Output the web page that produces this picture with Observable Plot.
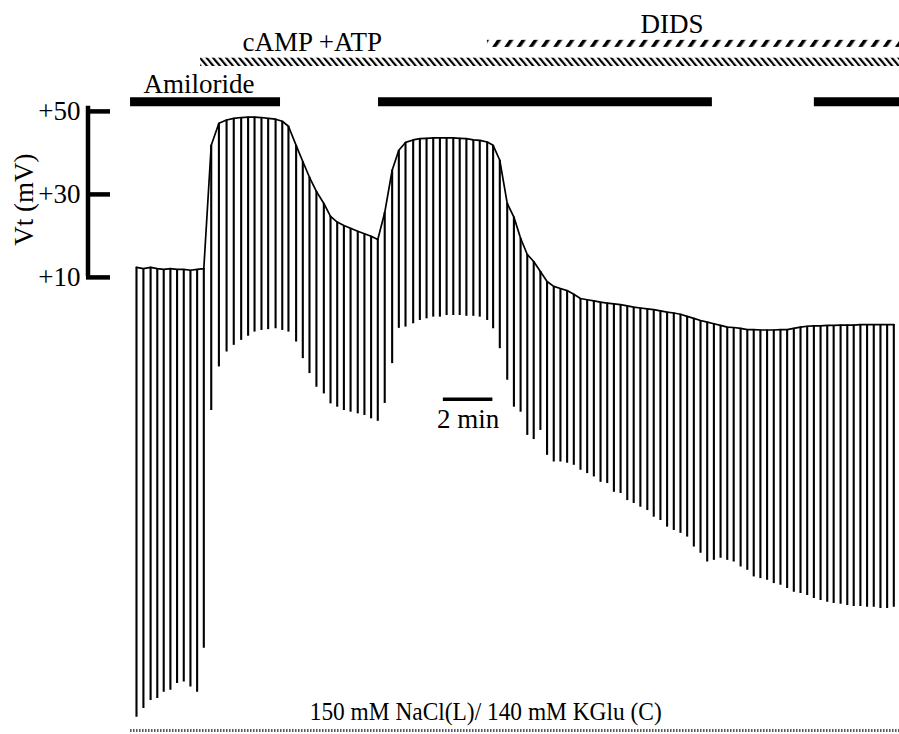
<!DOCTYPE html>
<html>
<head>
<meta charset="utf-8">
<script src="https://cdn.jsdelivr.net/npm/d3@7"></script>
<script src="https://cdn.jsdelivr.net/npm/@observablehq/plot@0.6"></script>
<style>
  html, body { margin: 0; padding: 0; background: #fff; }
</style>
</head>
<body>
<div id="chart"></div>
<script>
// ---- Data (time in minutes, transepithelial voltage Vt in mV) ----
// Time of each current pulse
const pulseTime = [
  1.05, 1.33, 1.62, 1.89, 2.15, 2.42, 2.69, 2.96, 3.23, 3.50, 3.77,
  4.07, 4.38, 4.69, 4.98, 5.28, 5.56, 5.82, 6.10, 6.37, 6.67, 6.94, 7.19, 7.50, 7.77, 8.04,
  8.32, 8.62, 8.89, 9.16, 9.43, 9.70, 9.99, 10.26, 10.53, 10.80,
  11.08, 11.38, 11.65, 11.92, 12.23, 12.50, 12.77, 13.04, 13.31, 13.58, 13.85, 14.11, 14.38,
  14.66, 14.92, 15.22, 15.46, 15.73, 16.03, 16.30, 16.57, 16.84, 17.10, 17.37, 17.64, 17.91,
  18.18, 18.45, 18.72, 18.99, 19.26, 19.53, 19.80, 20.07, 20.34, 20.61, 20.88, 21.14, 21.41,
  21.69, 21.95, 22.22, 22.49, 22.76, 23.03, 23.30, 23.57, 23.84, 24.11, 24.38, 24.65, 24.92,
  25.18, 25.46, 25.73, 25.99, 26.26, 26.53, 26.80, 27.07, 27.34, 27.61, 27.88, 28.15, 28.42,
  28.69, 28.96, 29.22, 29.50, 29.77, 30.03, 30.30, 30.57, 30.84, 31.11, 31.38, 31.65
];
// Vt just before each pulse (the recorded trace)
const pulseTop = [
  11.7, 11.4, 11.7, 11.4, 11.2, 11.4, 11.2, 11.2, 11.0, 11.2, 11.4,
  41.1, 46.4, 47.2, 47.6, 47.8, 47.9, 47.9, 47.8, 47.6, 47.4, 46.9, 45.7, 41.1, 37.2, 33.4,
  30.0, 27.1, 24.0, 22.6, 21.8, 21.1, 20.4, 19.8, 19.2, 18.4,
  24.9, 35.1, 39.9, 41.8, 42.4, 42.7, 42.8, 42.9, 42.9, 42.9, 42.9, 42.8, 42.7,
  42.4, 42.3, 41.9, 41.1, 37.5, 27.1, 23.8, 18.7, 14.8, 13.1, 10.7, 8.3, 7.1,
  6.6, 6.1, 5.2, 4.2, 3.9, 3.6, 3.3, 3.1, 2.9, 2.7, 2.4, 2.1, 1.9,
  1.7, 1.5, 1.2, 0.9, 0.7, 0.4, -0.1, -0.6, -1.1, -1.5, -1.9, -2.3, -2.7,
  -2.8, -3.0, -3.3, -3.3, -3.4, -3.4, -3.4, -3.3, -3.3, -3.0, -2.7, -2.5, -2.4,
  -2.4, -2.3, -2.3, -2.2, -2.2, -2.2, -2.1, -2.1, -2.1, -2.1, -2.1, -2.1
];
// Vt at the end of each pulse deflection
const pulseBottom = [
  -96.7, -94.6, -92.7, -92.2, -90.7, -90.2, -88.6, -88.2, -89.4, -90.7, -80.1,
  -22.8, -12.3, -8.7, -7.1, -5.9, -4.9, -3.9, -3.5, -3.3, -3.1, -3.5, -3.9, -6.3, -10.3, -13.9,
  -17.2, -18.8, -21.2, -22.0, -22.8, -23.2, -23.6, -24.0, -24.8, -25.4,
  -21.1, -11.5, -3.0, -2.7, -1.9, -1.1, -0.7, -0.3, -0.3, 0.1, 0.1, 0.1, -0.1,
  -0.1, -0.3, -1.1, -3.1, -7.9, -15.5, -22.0, -23.2, -28.8, -29.8, -27.6, -33.6, -35.2,
  -35.2, -35.5, -36.0, -37.2, -38.0, -38.8, -40.1, -40.4, -42.5, -42.8, -44.5, -45.2, -46.1,
  -46.9, -48.5, -49.3, -50.9, -51.7, -52.4, -53.3, -55.7, -57.2, -59.3, -58.9, -58.4, -58.9,
  -59.3, -60.5, -61.3, -62.9, -63.3, -63.7, -64.5, -64.9, -65.7, -66.6, -66.9, -67.4, -68.1,
  -68.6, -69.0, -69.3, -69.5, -69.8, -70.0, -70.0, -70.2, -70.2, -70.5, -70.5, -70.2
];

// Y axis ticks (mV)
const vtTicks = [10, 30, 50];
const yLabel = "Vt (mV)";

// Treatment periods (minutes)
const amilorideStart = [0.81, 10.83, 28.44];
const amilorideEnd   = [6.87, 24.32, 31.88];
const campStart = [3.64];
const campEnd   = [31.88];
const didsStart = [15.23];
const didsEnd   = [31.88];
const bathStart = [0.81];
const bathEnd   = [31.88];
const treatmentNames = ["Amiloride", "cAMP +ATP", "DIDS"];
const bathLabel = "150 mM NaCl(L)/ 140 mM KGlu (C)";

// Scale bar
const scaleBarStart = 13.45;
const scaleBarMinutes = 2;
const scaleBarLabel = "2 min";

// ---- Build ----
const pulses = pulseTime.map((t, i) => ({t, top: pulseTop[i], bottom: pulseBottom[i]}));
const amiloride = amilorideStart.map((s, i) => ({start: s, end: amilorideEnd[i]}));
const camp = campStart.map((s, i) => ({start: s, end: campEnd[i]}));
const dids = didsStart.map((s, i) => ({start: s, end: didsEnd[i]}));
const bath = bathStart.map((s, i) => ({start: s, end: bathEnd[i]}));

const serif = "'Liberation Serif', 'Times New Roman', Times, serif";
const FS = 27;

const spine = (index, scales, values, dims) => {
  const x = dims.marginLeft - 22;
  return d3.create("svg:line")
    .attr("x1", x).attr("x2", x)
    .attr("y1", scales.y(d3.max(vtTicks)) - 2.25)
    .attr("y2", scales.y(d3.min(vtTicks)) + 2.25)
    .attr("stroke", "#000").attr("stroke-width", 4.5)
    .node();
};

const chart = Plot.plot({
  width: 899,
  height: 734,
  marginLeft: 110,
  marginRight: 0,
  marginTop: 0,
  marginBottom: 3.6,
  style: {fontFamily: serif, background: "#fff", color: "#000", overflow: "visible"},
  x: {domain: [0, 31.88], axis: null},
  y: {domain: [-100, 76]},
  marks: [
    // pulse deflections
    Plot.ruleX(pulses, {x: "t", y1: "top", y2: "bottom", stroke: "#000", strokeWidth: 2.1}),
    // voltage trace
    Plot.line(pulses, {x: "t", y: "top", stroke: "#000", strokeWidth: 1.7}),
    // y axis bracket
    Plot.axisY({ticks: vtTicks, tickFormat: d => "+" + d, tickSize: 24, tickPadding: 6,
                fontSize: FS, strokeWidth: 4.5, label: null, fill: "#000", dy: 3}),
    spine,
    Plot.text([yLabel], {y: 28, frameAnchor: "left", textAnchor: "middle", dx: -86, rotate: -90, fontSize: FS, fill: "#000"}),
    // Amiloride bars
    Plot.ruleY(amiloride, {y: 51.6, x1: "start", x2: "end", stroke: "#000", strokeWidth: 9}),
    Plot.text([treatmentNames[0]], {x: amilorideStart[0], y: 55.9, dx: 13, textAnchor: "start", fontSize: FS, fill: "#000"}),
    // cAMP + ATP hatched bar
    Plot.rect(camp, {x1: "start", x2: "end", y1: 60.1, y2: 62.1, fill: "url(#hatchCamp)"}),
    Plot.text([treatmentNames[1]], {x: campStart[0], y: 66.0, dx: 42, textAnchor: "start", fontSize: FS, fill: "#000"}),
    // DIDS hatched bar
    Plot.rect(dids, {x1: "start", x2: "end", y1: 64.7, y2: 66.4, fill: "url(#hatchDids)"}),
    Plot.text([treatmentNames[2]], {x: didsStart[0], y: 70.2, dx: 153, textAnchor: "start", fontSize: FS, fill: "#000"}),
    // scale bar
    Plot.ruleY([scaleBarStart], {y: -20.1, x1: d => d, x2: d => d + scaleBarMinutes, stroke: "#000", strokeWidth: 3.5}),
    Plot.text([scaleBarLabel], {x: scaleBarStart + scaleBarMinutes / 2, y: -24.9, fontSize: FS, fill: "#000"}),
    // bath condition
    Plot.ruleY(bath, {y: -99.9, x1: "start", x2: "end", stroke: "#555", strokeWidth: 3, strokeDasharray: "1.5,1.5"}),
    Plot.text([bathLabel], {x: 15.16, y: -95.4, fontSize: 26, fill: "#000", className: "bath-caption"})
  ]
});

// condensed caption, as in the original figure
d3.select(chart).selectAll(".bath-caption text")
  .attr("textLength", 352).attr("lengthAdjust", "spacingAndGlyphs");

// hatch patterns
const defs = d3.select(chart).insert("defs", ":first-child");
const pc = defs.append("pattern").attr("id", "hatchCamp")
  .attr("patternUnits", "userSpaceOnUse").attr("width", 5).attr("height", 10)
  .attr("patternTransform", "rotate(-40)");
pc.append("rect").attr("width", 2.2).attr("height", 10).attr("fill", "#000");
const pd = defs.append("pattern").attr("id", "hatchDids")
  .attr("patternUnits", "userSpaceOnUse").attr("width", 10).attr("height", 10)
  .attr("patternTransform", "rotate(35)");
pd.append("rect").attr("width", 3.5).attr("height", 10).attr("fill", "#000");

document.getElementById("chart").appendChild(chart);
</script>
</body>
</html>
